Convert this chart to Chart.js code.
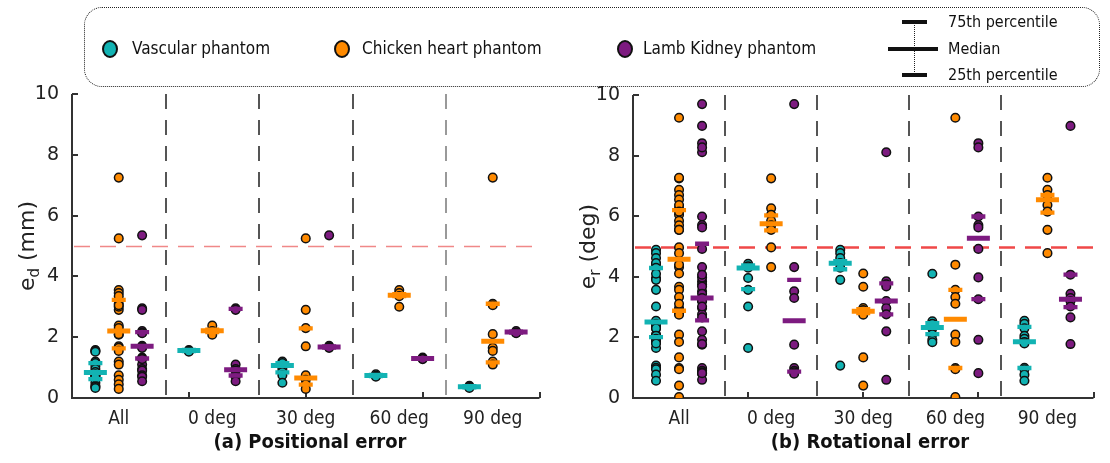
<!DOCTYPE html>
<html>
<head>
<meta charset="utf-8">
<script src="https://cdn.jsdelivr.net/npm/chart.js@4.4.0/dist/chart.umd.min.js"></script>
<style>
  body { margin: 0; width: 1110px; height: 463px; background: #fff; position: relative; overflow: hidden;
         font-family: "DejaVu Sans Condensed", "DejaVu Sans", sans-serif; color: #111; }
  canvas { position: absolute; top: 0; }
  #chartA { left: 0; }
  #chartB { left: 560px; }
  .box { position: absolute; left: 84px; top: 7px; width: 1016px; height: 80px; box-sizing: border-box;
         border: 1.5px dotted #222; border-radius: 18px; }
  .item { position: absolute; font-size: 17px; line-height: 20px; white-space: nowrap; }
  .dot { position: absolute; width: 12px; height: 14px; border-radius: 50%; border: 2px solid #111; }
  .pbar { position: absolute; height: 4px; background: #111; }
  .pline { position: absolute; left: 914px; top: 22px; height: 54px; border-left: 1.2px dotted #222; }
  .ptxt { position: absolute; left: 948px; font-size: 16px; line-height: 18px; white-space: nowrap; }
  .ptitle { position: absolute; top: 429px; font-size: 20px; font-weight: bold; white-space: nowrap;
            transform: translateX(-50%); }
</style>
</head>
<body>
<canvas id="chartA" width="556" height="463"></canvas>
<canvas id="chartB" width="550" height="463"></canvas>

<div class="box"></div>
<div class="dot" style="left:102px; top:40px; background:#12b3b3"></div>
<div class="item" style="left:132px; top:38px">Vascular phantom</div>
<div class="dot" style="left:334px; top:40px; background:#ff8a00"></div>
<div class="item" style="left:362px; top:38px">Chicken heart phantom</div>
<div class="dot" style="left:617px; top:40px; background:#7d1b80"></div>
<div class="item" style="left:643px; top:38px">Lamb Kidney phantom</div>
<div class="pline"></div>
<div class="pbar" style="left:902px; top:20px; width:25px"></div>
<div class="pbar" style="left:888px; top:47px; width:50px"></div>
<div class="pbar" style="left:902px; top:73px; width:25px"></div>
<div class="ptxt" style="top:13px">75th percentile</div>
<div class="ptxt" style="top:40px">Median</div>
<div class="ptxt" style="top:66px">25th percentile</div>

<div class="ptitle" style="left:310px">(a) Positional error</div>
<div class="ptitle" style="left:870px">(b) Rotational error</div>

<script>
const categories = ['All', '0 deg', '30 deg', '60 deg', '90 deg'];
const yTicks = [0, 2, 4, 6, 8, 10];
const errorLimit = 5;

const VASC = '#12b3b3';
const CHICK = '#ff8a00';
const LAMB = '#7d1b80';

// (a) positional error in mm, one array per angle
const vascPos0 = [1.58, 1.55, 1.52];
const vascPos30 = [1.2, 1.15, 1.05, 0.95, 0.85, 0.75, 0.5];
const vascPos60 = [0.78, 0.73, 0.7];
const vascPos90 = [0.4, 0.37, 0.33];
const chickPos0 = [2.38, 2.2, 2.08];
const chickPos30 = [5.25, 2.9, 2.3, 1.7, 0.75, 0.6, 0.45, 0.3];
const chickPos60 = [3.55, 3.45, 3.35, 3.0];
const chickPos90 = [7.25, 3.1, 3.05, 2.1, 1.65, 1.55, 1.2, 1.1];
const lambPos0 = [2.95, 2.9, 1.1, 0.95, 0.9, 0.75, 0.7, 0.55];
const lambPos30 = [5.35, 1.72, 1.68, 1.65];
const lambPos60 = [1.33, 1.3, 1.28];
const lambPos90 = [2.2, 2.15, 2.13];

// percentiles per category (All, 0, 30, 60, 90)
const vascPosP75 = [1.15, 1.58, 1.15, 0.76, 0.39];
const vascPosMed = [0.84, 1.56, 1.07, 0.74, 0.37];
const vascPosP25 = [0.62, 1.54, 0.84, 0.72, 0.35];
const chickPosP75 = [3.23, 2.25, 2.29, 3.42, 3.1];
const chickPosMed = [2.2, 2.21, 0.66, 3.38, 1.87];
const chickPosP25 = [1.63, 2.17, 0.44, 3.35, 1.17];
const lambPosP75 = [2.17, 2.93, 1.7, 1.31, 2.18];
const lambPosMed = [1.7, 0.93, 1.68, 1.3, 2.17];
const lambPosP25 = [1.3, 0.74, 1.66, 1.29, 2.15];

// (b) rotational error in deg
const vascRot0 = [4.43, 4.35, 4.3, 3.96, 3.57, 3.02, 1.65];
const vascRot30 = [4.89, 4.78, 4.62, 4.45, 4.3, 3.9, 1.07];
const vascRot60 = [4.1, 2.53, 2.45, 2.35, 2.3, 2.1, 1.92, 1.84];
const vascRot90 = [2.55, 2.45, 2.3, 2.05, 1.95, 1.85, 1.8, 1.0, 0.95, 0.77, 0.57];
const chickRot0 = [7.25, 6.26, 6.05, 5.85, 5.7, 5.55, 4.97, 4.32];
const chickRot30 = [4.11, 3.67, 2.97, 2.9, 2.85, 2.8, 2.75, 1.34, 0.41];
const chickRot60 = [9.25, 4.4, 3.57, 3.33, 3.11, 2.09, 1.85, 0.99, 0.95, 0.03];
const chickRot90 = [7.27, 6.87, 6.7, 6.55, 6.37, 6.15, 5.55, 4.78];
const lambRot0 = [9.7, 4.32, 3.52, 3.3, 1.76, 0.99, 0.9, 0.85, 0.8];
const lambRot30 = [8.11, 3.85, 3.75, 3.68, 3.2, 2.97, 2.76, 2.2, 0.6];
const lambRot60 = [8.41, 8.27, 5.99, 5.71, 5.63, 4.92, 3.98, 3.26, 1.92, 0.82];
const lambRot90 = [8.98, 4.07, 3.44, 3.3, 3.2, 3.02, 2.66, 1.78];

const vascRotP75 = [4.29, 4.38, 4.52, 2.47, 2.35];
const vascRotMed = [2.51, 4.29, 4.45, 2.33, 1.86];
const vascRotP25 = [2.01, 3.59, 4.25, 2.11, 0.99];
const chickRotP75 = [6.2, 6.03, 2.93, 3.57, 6.7];
const chickRotMed = [4.58, 5.75, 2.86, 2.6, 6.54];
const chickRotP25 = [2.88, 5.53, 2.8, 0.99, 6.12];
const lambRotP75 = [5.09, 3.9, 3.78, 5.99, 4.07];
const lambRotMed = [3.3, 2.55, 3.2, 5.27, 3.26];
const lambRotP25 = [2.56, 0.87, 2.76, 3.26, 3.0];

const FONT = '"DejaVu Sans Condensed", "DejaVu Sans", sans-serif';

// the "All" column simply pools the four angle groups
const pool = (...groups) => [].concat(...groups);

const pointSet = (label, color, offset, groups) => ({
    label,
    order: 2,
    data: groups.flatMap((vals, g) => vals.map((v) => ({ x: g + 1 + offset, y: v }))),
    backgroundColor: color,
    borderColor: '#111',
    borderWidth: 1.5,
    pointRadius: 4.3,
});

const medianSet = (color, offset, med) => ({
    order: 0,
    data: med.map((v, g) => ({ x: g + 1 + offset, y: v })),
    pointStyle: 'line',
    borderColor: color,
    borderWidth: 5,
    pointRadius: 11.5,
});

const quartileSet = (color, offset, p25, p75) => ({
    order: 1,
    data: p25.map((v, g) => ({ x: g + 1 + offset, y: v }))
        .concat(p75.map((v, g) => ({ x: g + 1 + offset, y: v }))),
    pointStyle: 'line',
    borderColor: color,
    borderWidth: 4.3,
    pointRadius: 7,
});

const decor = {
    id: 'decor',
    beforeDatasetsDraw(chart, args, opts) {
        const { ctx, chartArea: a, scales: { x, y } } = chart;
        ctx.save();
        // dashed group separators
        ctx.lineWidth = 2;
        ctx.setLineDash([15, 11]);
        [1.5, 2.5, 3.5, 4.5].forEach((v, i) => {
            const px = Math.round(x.getPixelForValue(v));
            ctx.strokeStyle = opts.sepColors[i];
            ctx.beginPath();
            ctx.moveTo(px, a.top);
            ctx.lineTo(px, a.bottom);
            ctx.stroke();
        });
        // error limit line
        const py = Math.round(y.getPixelForValue(errorLimit)) + 0.5;
        ctx.strokeStyle = opts.limitColor;
        ctx.lineWidth = opts.limitWidth;
        ctx.setLineDash([16, 10]);
        ctx.beginPath();
        ctx.moveTo(a.left + 2, py);
        ctx.lineTo(a.right, py);
        ctx.stroke();
        // axes with inward ticks
        ctx.setLineDash([]);
        ctx.strokeStyle = '#333';
        ctx.lineWidth = 2;
        ctx.beginPath();
        ctx.moveTo(a.left, a.top);
        ctx.lineTo(a.left, a.bottom);
        ctx.lineTo(a.right, a.bottom);
        yTicks.forEach((v) => {
            const ty = Math.round(y.getPixelForValue(v));
            ctx.moveTo(a.left, ty);
            ctx.lineTo(a.left + 6, ty);
        });
        [1.75, 3, 4.25, 5.5].forEach((v) => {
            const tx = Math.round(x.getPixelForValue(v));
            ctx.moveTo(tx, a.bottom);
            ctx.lineTo(tx, a.bottom - 6);
        });
        ctx.stroke();
        ctx.restore();
    },
    afterDraw(chart, args, opts) {
        // y axis title with a subscript
        const { ctx, chartArea: a } = chart;
        ctx.save();
        ctx.translate(a.left - 46, (a.top + a.bottom) / 2);
        ctx.rotate(-Math.PI / 2);
        ctx.fillStyle = '#222';
        ctx.textBaseline = 'alphabetic';
        const big = '22px "DejaVu Sans"';
        const small = '15px "DejaVu Sans"';
        ctx.font = big;
        const w1 = ctx.measureText('e').width;
        const w3 = ctx.measureText(opts.rest).width;
        ctx.font = small;
        const w2 = ctx.measureText(opts.sub).width;
        let cx = -(w1 + w2 + w3) / 2;
        ctx.font = big;
        ctx.fillText('e', cx, 8);
        cx += w1;
        ctx.font = small;
        ctx.fillText(opts.sub, cx, 13);
        cx += w2;
        ctx.font = big;
        ctx.fillText(opts.rest, cx, 8);
        ctx.restore();
    },
};

const buildConfig = (sets, padRight, padTop, decorOpts, axisWidth) => ({
    type: 'scatter',
    data: { datasets: sets },
    options: {
        responsive: false,
        animation: false,
        layout: { padding: { top: padTop, right: padRight, bottom: 0, left: 0 } },
        plugins: { legend: { display: false }, tooltip: { enabled: false }, decor: decorOpts },
        scales: {
            x: {
                type: 'linear',
                min: 0.5,
                max: 5.5,
                grid: { display: false },
                border: { display: false },
                afterBuildTicks: (scale) => {
                    scale.ticks = categories.map((c, i) => ({ value: i + 1 }));
                },
                afterFit: (scale) => {
                    scale.height = 65;
                    scale.paddingLeft = 0;
                    scale.paddingRight = 0;
                },
                ticks: {
                    autoSkip: false,
                    maxRotation: 0,
                    padding: 2,
                    color: '#222',
                    font: { family: FONT, size: 19 },
                    callback: (v, i) => categories[i],
                },
            },
            y: {
                min: 0,
                max: 10,
                grid: { display: false },
                border: { display: false },
                afterFit: (scale) => {
                    scale.width = axisWidth;
                    scale.paddingTop = 0;
                    scale.paddingBottom = 0;
                },
                ticks: {
                    stepSize: 2,
                    padding: 5,
                    color: '#222',
                    font: { family: '"DejaVu Sans", sans-serif', size: 19 },
                },
            },
        },
    },
    plugins: [decor],
});

const posSets = [
    medianSet(VASC, -0.25, vascPosMed),
    medianSet(CHICK, 0, chickPosMed),
    medianSet(LAMB, 0.25, lambPosMed),
    quartileSet(VASC, -0.25, vascPosP25, vascPosP75),
    quartileSet(CHICK, 0, chickPosP25, chickPosP75),
    quartileSet(LAMB, 0.25, lambPosP25, lambPosP75),
    pointSet('Vascular phantom', VASC, -0.25,
        [pool(vascPos0, vascPos30, vascPos60, vascPos90), vascPos0, vascPos30, vascPos60, vascPos90]),
    pointSet('Chicken heart phantom', CHICK, 0,
        [pool(chickPos0, chickPos30, chickPos60, chickPos90), chickPos0, chickPos30, chickPos60, chickPos90]),
    pointSet('Lamb Kidney phantom', LAMB, 0.25,
        [pool(lambPos0, lambPos30, lambPos60, lambPos90), lambPos0, lambPos30, lambPos60, lambPos90]),
];

const rotSets = [
    medianSet(VASC, -0.25, vascRotMed),
    medianSet(CHICK, 0, chickRotMed),
    medianSet(LAMB, 0.25, lambRotMed),
    quartileSet(VASC, -0.25, vascRotP25, vascRotP75),
    quartileSet(CHICK, 0, chickRotP25, chickRotP75),
    quartileSet(LAMB, 0.25, lambRotP25, lambRotP75),
    pointSet('Vascular phantom', VASC, -0.25,
        [pool(vascRot0, vascRot30, vascRot60, vascRot90), vascRot0, vascRot30, vascRot60, vascRot90]),
    pointSet('Chicken heart phantom', CHICK, 0,
        [pool(chickRot0, chickRot30, chickRot60, chickRot90), chickRot0, chickRot30, chickRot60, chickRot90]),
    pointSet('Lamb Kidney phantom', LAMB, 0.25,
        [pool(lambRot0, lambRot30, lambRot60, lambRot90), lambRot0, lambRot30, lambRot60, lambRot90]),
];

new Chart(document.getElementById('chartA'), buildConfig(posSets, 8, 94, {
    sepColors: ['#555', '#555', '#555', '#999'],
    limitColor: '#f08888',
    limitWidth: 1.5,
    sub: 'd',
    rest: ' (mm)',
}, 72));

new Chart(document.getElementById('chartB'), buildConfig(rotSets, 2, 95, {
    sepColors: ['#555', '#555', '#555', '#555'],
    limitColor: '#f04848',
    limitWidth: 2.5,
    sub: 'r',
    rest: ' (deg)',
}, 73));
</script>
</body>
</html>
